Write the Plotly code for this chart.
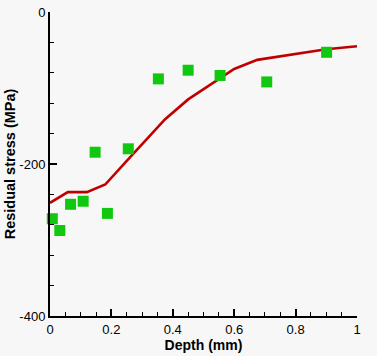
import plotly.graph_objects as go

# Model curve (red line)
line_depth = [0, 0.058, 0.12, 0.18, 0.25, 0.30, 0.375, 0.45, 0.52, 0.60, 0.675, 0.80, 0.90, 1.0]
line_stress = [-251, -237, -237, -227, -196, -174, -141, -115, -96, -75, -63, -55.5, -49, -45]

# Measured points (green squares)
meas_depth = [0.0075, 0.032, 0.067, 0.108, 0.147, 0.187, 0.255, 0.353, 0.45, 0.554, 0.706, 0.901]
meas_stress = [-272, -287.5, -253, -249, -184.5, -265, -180, -88, -76.6, -83.5, -92, -53]

x_ticks = [0, 0.2, 0.4, 0.6, 0.8, 1]
x_ticklabels = ["0", "0.2", "0.4", "0.6", "0.8", "1"]
y_ticks = [0, -200, -400]
y_ticklabels = ["0", "-200", "-400"]

fig = go.Figure()
fig.add_trace(go.Scatter(
    x=line_depth, y=line_stress, mode="lines",
    line=dict(color="#c00000", width=2.6), showlegend=False, cliponaxis=False))
fig.add_trace(go.Scatter(
    x=meas_depth, y=meas_stress, mode="markers",
    marker=dict(symbol="square", size=11, color="#11c811", line=dict(width=0)),
    showlegend=False, cliponaxis=False))

font_family = "Liberation Sans, Arial, sans-serif"
fig.update_layout(
    width=377, height=356,
    margin=dict(l=50, r=20, t=12, b=40, pad=0),
    paper_bgcolor="#f7f7f7", plot_bgcolor="#f7f7f7",
    font=dict(family=font_family, size=13, color="black"),
)
fig.update_xaxes(
    range=[0, 1], tickvals=x_ticks, ticktext=x_ticklabels, automargin=False,
    showgrid=False, zeroline=False, showline=True, linecolor="black", linewidth=2,
    ticks="inside", ticklen=7, tickwidth=2, tickcolor="black",
    minor=dict(ticks="inside", dtick=0.05, ticklen=4, tickwidth=1, tickcolor="black", showgrid=False),
    tickfont=dict(size=13),
    title=dict(text="<b>Depth (mm)</b>", font=dict(size=14), standoff=4),
)
fig.update_yaxes(
    range=[-400, 0], tickvals=y_ticks, ticktext=y_ticklabels, automargin=False,
    showgrid=False, zeroline=False, showline=True, linecolor="black", linewidth=2,
    ticks="inside", ticklen=7, tickwidth=2, tickcolor="black",
    minor=dict(ticks="inside", dtick=40, ticklen=4, tickwidth=1, tickcolor="black", showgrid=False),
    tickfont=dict(size=13),
    title=dict(text="<b>Residual stress (MPa)</b>", font=dict(size=14.5), standoff=0),
)

fig.write_html(
    "out.html",
    config={"displayModeBar": False},
    post_script="document.body.style.margin='0';document.body.style.background='#f7f7f7';",
)
